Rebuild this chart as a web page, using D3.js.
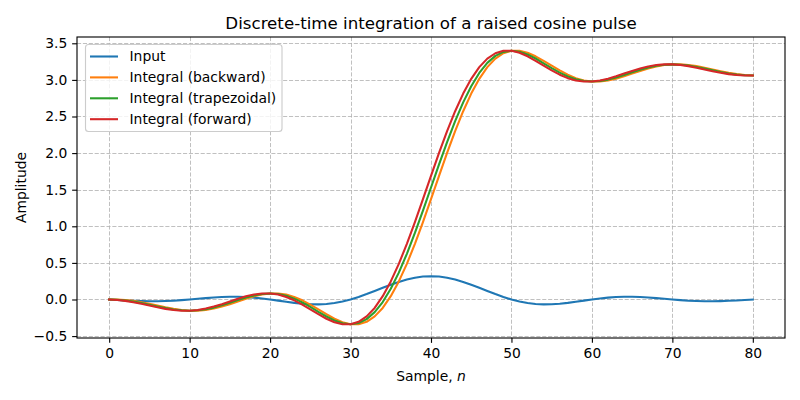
<!DOCTYPE html>
<html><head><meta charset="utf-8">
<script src="https://cdn.jsdelivr.net/npm/d3@7"></script>
<style>body{margin:0;background:#fff}svg{display:block;font-family:"DejaVu Sans",sans-serif}</style>
</head><body><svg id="c" width="800" height="400"></svg>
<script>
const samples = d3.range(0, 81);
const inputValues = [0, -0.0064, -0.0126, -0.0180, -0.0220, -0.0241, -0.0238, -0.0211, -0.0160, -0.0088, 0, 0.0095, 0.0189, 0.0273, 0.0335, 0.0370, 0.0369, 0.0330, 0.0252, 0.0140, 0, -0.0156, -0.0316, -0.0462, -0.0580, -0.0654, -0.0669, -0.0615, -0.0486, -0.0280, 0, 0.0344, 0.0738, 0.1163, 0.1598, 0.2019, 0.2404, 0.2729, 0.2976, 0.3131, 0.3183,
 0.3131, 0.2976, 0.2729, 0.2404, 0.2019, 0.1598, 0.1163, 0.0738, 0.0344, 0, -0.0280, -0.0486, -0.0615, -0.0669, -0.0654, -0.0580, -0.0462, -0.0316, -0.0156, 0, 0.0140, 0.0252, 0.0330, 0.0369, 0.0370, 0.0335, 0.0273, 0.0189, 0.0095, 0, -0.0088, -0.0160, -0.0211, -0.0238, -0.0241, -0.0220, -0.0180, -0.0126, -0.0064, 0];
const backwardValues = [0.000, 0.000, -0.006, -0.019, -0.037, -0.059, -0.083, -0.107, -0.128, -0.144, -0.153, -0.153, -0.143, -0.124, -0.097, -0.064, -0.027, 0.010, 0.043, 0.068, 0.082, 0.082, 0.067, 0.035, -0.011, -0.069, -0.134, -0.201, -0.263, -0.311, -0.339, -0.339, -0.305, -0.231, -0.115, 0.045, 0.247, 0.487, 0.760, 1.058, 1.371, 1.689, 2.002, 2.300, 2.572, 2.813, 3.015, 3.174, 3.291, 3.364, 3.399, 3.399, 3.371, 3.322, 3.261, 3.194, 3.129, 3.071, 3.024, 2.993, 2.977, 2.977, 2.991, 3.016, 3.049, 3.086, 3.123, 3.157, 3.184, 3.203, 3.212, 3.212, 3.204, 3.188, 3.167, 3.143, 3.119, 3.097, 3.079, 3.066, 3.060];
const trapezoidalValues = [0.000, -0.003, -0.013, -0.028, -0.048, -0.071, -0.095, -0.118, -0.136, -0.148, -0.153, -0.148, -0.134, -0.111, -0.080, -0.045, -0.008, 0.027, 0.056, 0.075, 0.082, 0.075, 0.051, 0.012, -0.040, -0.102, -0.168, -0.232, -0.287, -0.325, -0.339, -0.322, -0.268, -0.173, -0.035, 0.146, 0.367, 0.624, 0.909, 1.214, 1.530, 1.845, 2.151, 2.436, 2.693, 2.914, 3.095, 3.233, 3.328, 3.382, 3.399, 3.385, 3.347, 3.292, 3.227, 3.161, 3.100, 3.047, 3.009, 2.985, 2.977, 2.984, 3.004, 3.033, 3.068, 3.105, 3.140, 3.170, 3.193, 3.208, 3.212, 3.208, 3.196, 3.177, 3.155, 3.131, 3.108, 3.088, 3.072, 3.063, 3.060];
const forwardValues = [0.000, -0.006, -0.019, -0.037, -0.059, -0.083, -0.107, -0.128, -0.144, -0.153, -0.153, -0.143, -0.124, -0.097, -0.064, -0.027, 0.010, 0.043, 0.068, 0.082, 0.082, 0.067, 0.035, -0.011, -0.069, -0.134, -0.201, -0.263, -0.311, -0.339, -0.339, -0.305, -0.231, -0.115, 0.045, 0.247, 0.487, 0.760, 1.058, 1.371, 1.689, 2.002, 2.300, 2.572, 2.813, 3.015, 3.174, 3.291, 3.364, 3.399, 3.399, 3.371, 3.322, 3.261, 3.194, 3.129, 3.071, 3.024, 2.993, 2.977, 2.977, 2.991, 3.016, 3.049, 3.086, 3.123, 3.157, 3.184, 3.203, 3.212, 3.212, 3.204, 3.188, 3.167, 3.143, 3.119, 3.097, 3.079, 3.066, 3.060, 3.060];
const seriesNames = ["Input", "Integral (backward)", "Integral (trapezoidal)", "Integral (forward)"];
const seriesColors = ["#1f77b4", "#ff7f0e", "#2ca02c", "#d62728"];
const xTicks = [0, 10, 20, 30, 40, 50, 60, 70, 80];
const yTicks = [-0.5, 0, 0.5, 1, 1.5, 2, 2.5, 3, 3.5];

const series = [inputValues, backwardValues, trapezoidalValues, forwardValues];
const pt = 100 / 72;
const L = 77, R = 785, T = 37, B = 338;
const FS = 10 * pt;
const svg = d3.select("#c");
const x = d3.scaleLinear().domain([-4, 84]).range([L, R]);
const y = d3.scaleLinear().domain([-0.526, 3.586]).range([B, T]);
const fmt = v => d3.format(".1f")(v).replace("-", "\u2212");

// grid
const g = svg.append("g").attr("stroke", "#b0b0b0").attr("stroke-opacity", 0.8)
  .attr("stroke-width", 1).attr("stroke-dasharray", `${2.96 * pt},${1.28 * pt}`);
g.selectAll("line.gx").data(xTicks).join("line")
  .attr("x1", d => Math.round(x(d)) + 0.5).attr("x2", d => Math.round(x(d)) + 0.5).attr("y1", T).attr("y2", B);
g.selectAll("line.gy").data(yTicks).join("line")
  .attr("y1", d => Math.round(y(d)) + 0.5).attr("y2", d => Math.round(y(d)) + 0.5).attr("x1", L).attr("x2", R);

// lines
const line = d3.line().x((d, i) => x(samples[i])).y(d => y(d));
svg.append("defs").append("clipPath").attr("id", "clip").append("rect")
  .attr("x", L).attr("y", T).attr("width", R - L).attr("height", B - T);
series.forEach((s, i) => {
  svg.append("path").attr("d", line(s)).attr("fill", "none")
    .attr("stroke", seriesColors[i]).attr("stroke-width", 1.5 * pt)
    .attr("stroke-linejoin", "round").attr("stroke-linecap", "square")
    .attr("clip-path", "url(#clip)");
});

// axes
const xAxis = d3.axisBottom(x).tickValues(xTicks).tickSize(3.5 * pt).tickPadding(3.5 * pt).tickFormat(d3.format("d"));
const yAxis = d3.axisLeft(y).tickValues(yTicks).tickSize(3.5 * pt).tickPadding(3.5 * pt).tickFormat(fmt);
const ax = svg.append("g").attr("transform", `translate(0,${B})`).call(xAxis);
const ay = svg.append("g").attr("transform", `translate(${L},0)`).call(yAxis);
[ax, ay].forEach(a => {
  a.select(".domain").remove();
  a.selectAll("line").attr("stroke", "#000").attr("stroke-width", 0.8 * pt);
  a.selectAll("text").attr("font-family", "DejaVu Sans").attr("font-size", FS + "px").attr("fill", "#000");
});
svg.append("rect").attr("x", L).attr("y", T).attr("width", R - L).attr("height", B - T)
  .attr("fill", "none").attr("stroke", "#000").attr("stroke-width", 0.8 * pt);

// labels
svg.append("text").attr("x", (L + R) / 2).attr("y", 29).attr("text-anchor", "middle")
  .attr("font-size", (12 * pt) + "px").text("Discrete-time integration of a raised cosine pulse");
const xl = svg.append("text").attr("x", (L + R) / 2).attr("y", 381).attr("text-anchor", "middle")
  .attr("font-size", FS + "px");
xl.append("tspan").text("Sample, ");
xl.append("tspan").attr("font-style", "italic").text("n");
svg.append("text").attr("transform", `translate(26,${(T + B) / 2}) rotate(-90)`)
  .attr("text-anchor", "middle").attr("font-size", FS + "px").text("Amplitude");

// legend
const lg = svg.append("g");
lg.append("rect").attr("x", 85.5).attr("y", 44.5).attr("width", 196.5).attr("height", 87)
  .attr("rx", 3).attr("fill", "#fff").attr("fill-opacity", 0.8).attr("stroke", "#cccccc").attr("stroke-width", 0.8 * pt);
seriesNames.forEach((n, i) => {
  const yy = 56.5 + i * 20.9;
  lg.append("line").attr("x1", 90).attr("x2", 118).attr("y1", yy).attr("y2", yy)
    .attr("stroke", seriesColors[i]).attr("stroke-width", 1.5 * pt);
  lg.append("text").attr("x", 129.5).attr("y", yy + 4.9).attr("font-size", FS + "px").text(n);
});
</script></body></html>
